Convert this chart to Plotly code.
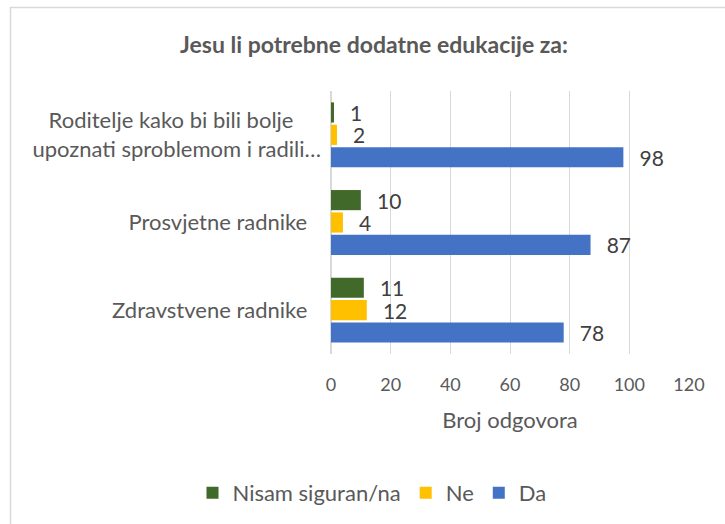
import plotly.graph_objects as go

categories = ["Zdravstvene radnike\u2002\u2009",
              "Prosvjetne radnike\u2002\u2009",
              "Roditelje kako bi bili bolje\u2003\u2002<br>upoznati sproblemom i radili…"]
da = [78, 87, 98]
ne = [12, 4, 2]
nisam = [11, 10, 1]
x_ticks = [0, 20, 40, 60, 80, 100, 120]

FONT = "Lato"
fig = go.Figure()
series = [("Da", da, "#4472C4"), ("Ne", ne, "#FFC000"), ("Nisam siguran/na", nisam, "#41692A")]
for name, vals, col in series:
    fig.add_trace(go.Bar(
        y=categories, x=vals, name=name, orientation="h",
        marker=dict(color=col, line=dict(width=0)),
        text=[f"\u2002\u2009{v}" for v in vals], textposition="outside",
        textfont=dict(size=21, color="#404040", family=FONT),
        constraintext="none", cliponaxis=False,
    ))

L, R, T, B = 331, 36, 91, 170
W, H = 725, 524
pw, ph = W - L - R, H - T - B

def px_x(p):
    return (p - L) / pw

def px_y(p):
    return (H - B - p) / ph

fig.update_layout(
    width=W, height=H,
    margin=dict(l=L, r=R, t=T, b=B, autoexpand=False),
    paper_bgcolor="white", plot_bgcolor="white",
    barmode="group", bargap=0.234, bargroupgap=0.1,
    font=dict(family=FONT, size=22, color="#595959"),
    title=dict(text="<b>Jesu li potrebne dodatne edukacije za:</b>",
               x=374 / W, xanchor="center", xref="container",
               y=1 - 45 / H, yanchor="middle", yref="container",
               font=dict(size=23, color="#595959", family=FONT)),
    xaxis=dict(range=[0, 120], tickvals=x_ticks, showgrid=True,
               gridcolor="#d9d9d9", gridwidth=1, zeroline=True,
               zerolinecolor="#d9d9d9", showline=False,
               tickfont=dict(size=18, color="#595959"),
               ticklabelstandoff=18,
               title=dict(text="Broj odgovora", standoff=18,
                          font=dict(size=22, color="#595959"))),
    yaxis=dict(showgrid=False, zeroline=False, showline=False,
               ticklabelstandoff=9,
               tickfont=dict(size=22, color="#595959")),
    legend=dict(orientation="h", traceorder="reversed",
                x=372 / W, xanchor="center", xref="container",
                y=1 - 493 / H, yanchor="middle", yref="container",
                font=dict(size=22, color="#595959"),
                itemwidth=30),
    showlegend=True,
    shapes=[dict(type="rect", xref="paper", yref="paper",
                 x0=px_x(10.5), x1=px_x(735), y0=px_y(535), y1=px_y(7.5),
                 line=dict(color="#d9d9d9", width=1.5), fillcolor="rgba(0,0,0,0)",
                 layer="below")],
)

fig.write_html("out.html", config={"displayModeBar": False},
               post_script="document.body.style.margin='0';document.body.style.overflow='hidden';")
